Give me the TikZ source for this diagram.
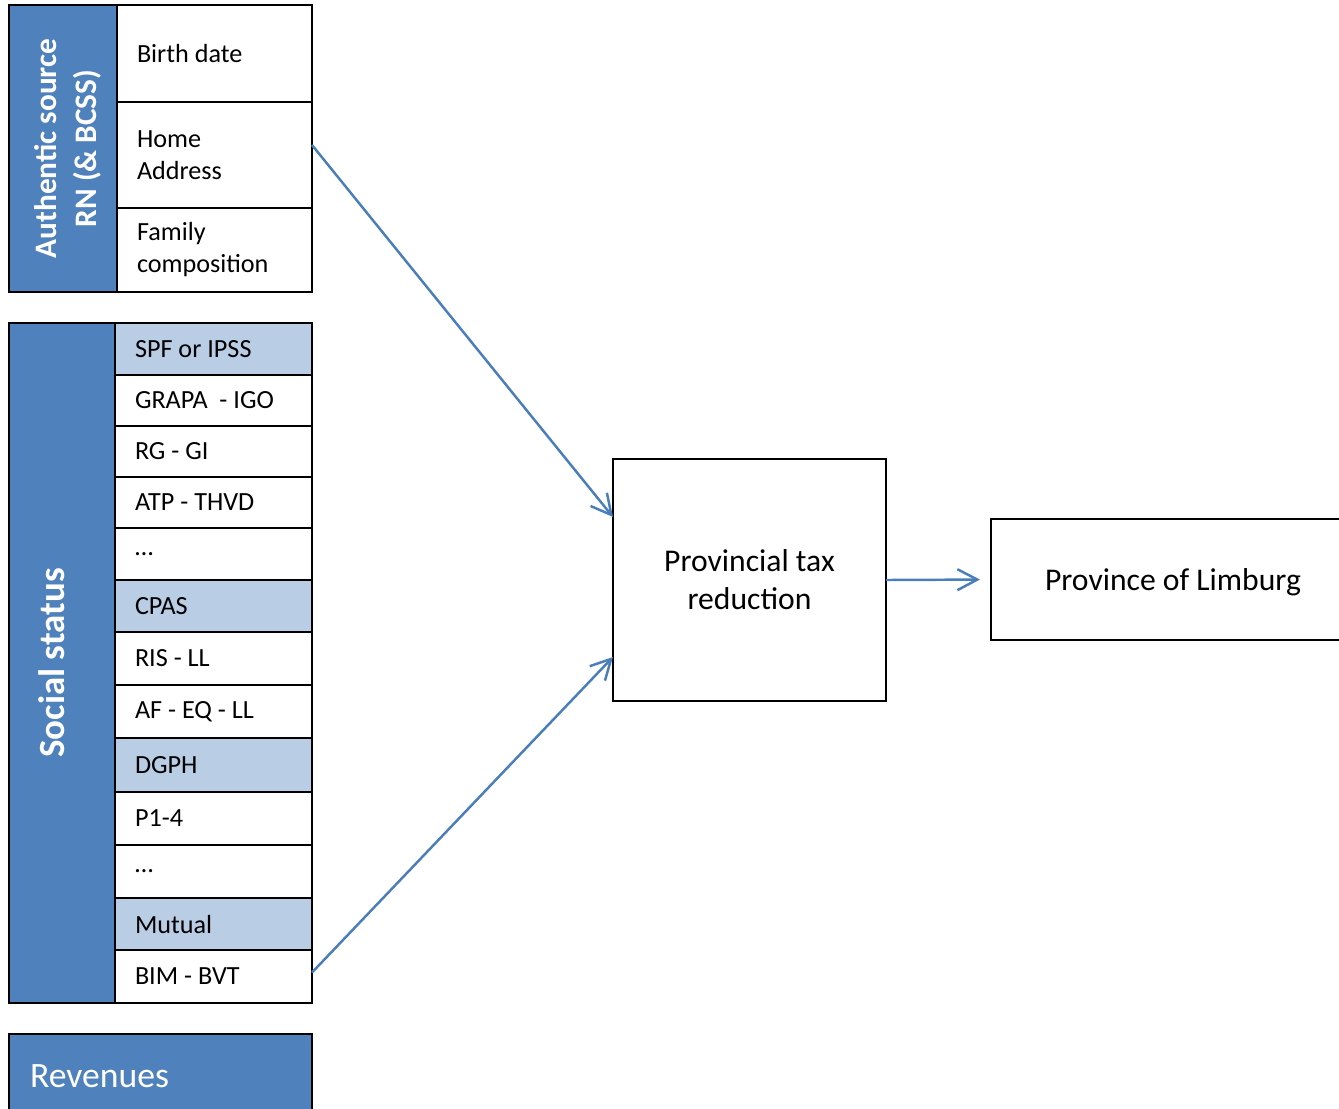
\documentclass[tikz,border=0pt]{standalone}
\usepackage{fontspec}
\setmainfont{Carlito}
\usetikzlibrary{arrows.meta, positioning, calc}

\definecolor{darkcol}{HTML}{4F81BD}
\definecolor{lightcol}{HTML}{B9CDE5}
\definecolor{linkcol}{HTML}{4A7EBB}

\begin{document}
\begin{tikzpicture}[>={Straight Barb[length=4mm, width=4.2mm]},
    box/.style={draw, line width=1.3pt, outer sep=0pt, rectangle},
    bluecol/.style={box, fill=darkcol},
    cell/.style={box, minimum width=3.9cm, text width=3.1cm, inner xsep=0.4cm, inner ysep=0pt, align=left,
        execute at begin node={\spaceskip=0pt\xspaceskip=0pt}, font=\fontsize{14.9}{18.2}\selectfont},
    srow/.style={cell, minimum width=3.94cm, text width=3.14cm, minimum height=1.046cm},
    shaded/.style={fill=lightcol},
    title/.style={rotate=90, text=white, align=center, font=\bfseries\fontsize{17.8}{22.6}\selectfont},
    link/.style={->, draw=linkcol, line width=1.4pt}]

            \useasboundingbox (0,0) rectangle (26.78,-22.16);

            % Authentic source
            \node[bluecol, minimum width=2.16cm, minimum height=5.74cm, anchor=north west] (auth) at (0.18,-0.1) {};
            \node[title] (authtxt) at ([xshift=0.1cm]auth.center) {Authentic source\\RN (\& BCSS)};

            \node[cell, minimum height=1.94cm, anchor=north west] (birth) at (2.34,-0.1) {Birth date};
            \node[cell, minimum height=2.12cm, below=0pt of birth] (home) {Home\\Address};
            \node[cell, minimum height=1.68cm, below=0pt of home] (family) {Family\\composition};

            % Social status
            \node[bluecol, minimum width=2.12cm, minimum height=13.6cm, anchor=north west] (social) at (0.18,-6.46) {};
            \node[title, font=\bfseries\fontsize{21}{25}\selectfont] (socialtxt) at ([xshift=-0.2cm]social.center) {Social status};

            \node[srow, shaded, minimum height=1.04cm, anchor=north west] (spf) at (2.30,-6.46) {SPF or IPSS};
            \node[srow, minimum height=1.02cm, below=0pt of spf] (grapa) {GRAPA\ \ - IGO};
            \node[srow, minimum height=1.02cm, below=0pt of grapa] (rg) {RG - GI};
            \node[srow, minimum height=1.02cm, below=0pt of rg] (atp) {ATP - THVD};
            \node[srow, minimum height=1.04cm, below=0pt of atp] (dotsa) {…};
            \node[srow, shaded, minimum height=1.04cm, below=0pt of dotsa] (cpas) {CPAS};
            \node[srow, minimum height=1.06cm, below=0pt of cpas] (ris) {RIS - LL};
            \node[srow, minimum height=1.06cm, below=0pt of ris] (af) {AF - EQ - LL};
            \node[srow, shaded, minimum height=1.08cm, below=0pt of af] (dgph) {DGPH};
            \node[srow, minimum height=1.06cm, below=0pt of dgph] (pone) {P1-4};
            \node[srow, minimum height=1.06cm, below=0pt of pone] (dotsb) {…};
            \node[srow, shaded, minimum height=1.04cm, below=0pt of dotsb] (mutual) {Mutual};
            \node[srow, minimum height=1.06cm, below=0pt of mutual] (bim) {BIM - BVT};

            % Revenues
            \node[bluecol, minimum width=6.06cm, minimum height=1.7cm, text width=5.22cm, inner xsep=0.42cm, align=left, text=white, font=\fontsize{20.3}{24}\selectfont, anchor=north west] (rev) at (0.18,-20.68) {Revenues};

            % Outcome
            \node[box, minimum width=5.46cm, minimum height=4.84cm, align=center, font=\fontsize{18}{21.6}\selectfont] (prov) at (14.99,-11.6) {Provincial tax\\reduction};
            \node[box, minimum width=7.28cm, minimum height=2.42cm, text depth=0pt, font=\fontsize{18}{21.6}\selectfont] (limburg) at (23.46,-11.59) {Province of Limburg};

            % Connections
            \draw[link] ([yshift=0.2cm]home.east) -- ([yshift=-1.16cm]prov.north west);
            \draw[link] ([yshift=0.08cm]bim.east) -- ([yshift=0.88cm]prov.south west);
            \draw[link, shorten >=0.22cm] (prov.east) -- (limburg.west);

        \end{tikzpicture}
\end{document}
